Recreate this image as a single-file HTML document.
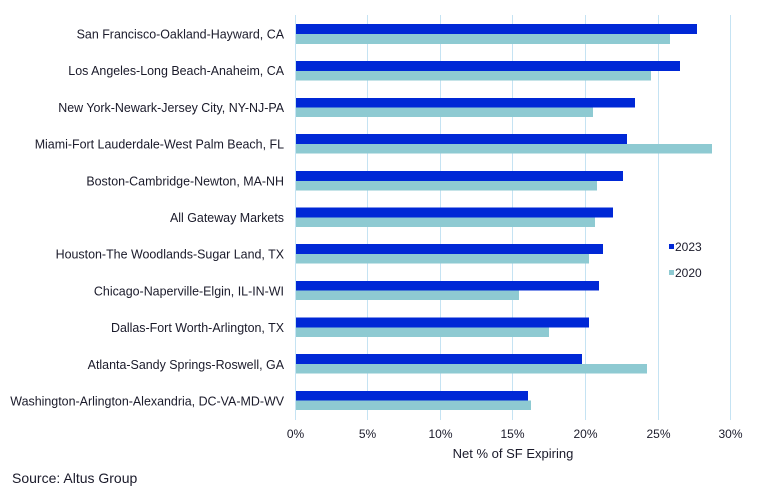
<!DOCTYPE html>
<html><head><meta charset="utf-8"><style>
body{margin:0;background:#fff}
svg{display:block;font-family:"Liberation Sans",Arial,sans-serif}
</style></head><body>
<svg width="768" height="499" viewBox="0 0 768 499" xmlns="http://www.w3.org/2000/svg">
<g stroke="#c5e3f3" stroke-width="1">
<line x1="295.5" y1="15" x2="295.5" y2="420"/>
<line x1="367.5" y1="15" x2="367.5" y2="420"/>
<line x1="440.5" y1="15" x2="440.5" y2="420"/>
<line x1="512.5" y1="15" x2="512.5" y2="420"/>
<line x1="585.5" y1="15" x2="585.5" y2="420"/>
<line x1="658.5" y1="15" x2="658.5" y2="420"/>
<line x1="730.5" y1="15" x2="730.5" y2="420"/>
</g>
<g fill="#0028d6">
<rect x="296" y="24" width="401" height="10"/>
<rect x="296" y="61" width="384" height="10"/>
<rect x="296" y="98" width="339" height="9.5"/>
<rect x="296" y="134" width="331" height="10"/>
<rect x="296" y="171" width="327" height="10"/>
<rect x="296" y="207.5" width="317" height="10"/>
<rect x="296" y="244" width="307" height="10"/>
<rect x="296" y="281" width="303" height="9.5"/>
<rect x="296" y="317.5" width="293" height="10"/>
<rect x="296" y="354" width="286" height="10"/>
<rect x="296" y="391" width="232" height="9.5"/>
</g>
<g fill="#8ecad2">
<rect x="296" y="34" width="374" height="10"/>
<rect x="296" y="71" width="355" height="9.5"/>
<rect x="296" y="107.5" width="297" height="9.5"/>
<rect x="296" y="144" width="416" height="9.5"/>
<rect x="296" y="181" width="301" height="9.5"/>
<rect x="296" y="217.5" width="299" height="9.5"/>
<rect x="296" y="254" width="293" height="9.5"/>
<rect x="296" y="290.5" width="223" height="9.5"/>
<rect x="296" y="327.5" width="253" height="9.5"/>
<rect x="296" y="364" width="351" height="9.5"/>
<rect x="296" y="400.5" width="235" height="9.5"/>
</g>
<g font-size="12.45" fill="#1a1a2a" text-anchor="end">
<text x="284" y="38.5">San Francisco-Oakland-Hayward, CA</text>
<text x="284" y="75.2">Los Angeles-Long Beach-Anaheim, CA</text>
<text x="284" y="111.9">New York-Newark-Jersey City, NY-NJ-PA</text>
<text x="284" y="148.6">Miami-Fort Lauderdale-West Palm Beach, FL</text>
<text x="284" y="185.3">Boston-Cambridge-Newton, MA-NH</text>
<text x="284" y="222">All Gateway Markets</text>
<text x="284" y="258.7">Houston-The Woodlands-Sugar Land, TX</text>
<text x="284" y="295.4">Chicago-Naperville-Elgin, IL-IN-WI</text>
<text x="284" y="332.1">Dallas-Fort Worth-Arlington, TX</text>
<text x="284" y="368.8">Atlanta-Sandy Springs-Roswell, GA</text>
<text x="284" y="405.5">Washington-Arlington-Alexandria, DC-VA-MD-WV</text>
</g>
<g font-size="12" fill="#1a1a2a" text-anchor="middle">
<text x="295.5" y="438">0%</text>
<text x="367.5" y="438">5%</text>
<text x="440.5" y="438">10%</text>
<text x="512.5" y="438">15%</text>
<text x="585.5" y="438">20%</text>
<text x="658.5" y="438">25%</text>
<text x="730.5" y="438">30%</text>
<text x="513" y="458" font-size="13">Net % of SF Expiring</text>
</g>
<rect x="669" y="244" width="5" height="5" fill="#0028d6"/>
<rect x="669" y="270" width="5" height="5" fill="#8ecad2"/>
<text x="675" y="251" font-size="12" fill="#1a1a2a">2023</text>
<text x="675" y="277" font-size="12" fill="#1a1a2a">2020</text>
<text x="12" y="483" font-size="14" fill="#1a1a2a">Source: Altus Group</text>
</svg>
</body></html>
